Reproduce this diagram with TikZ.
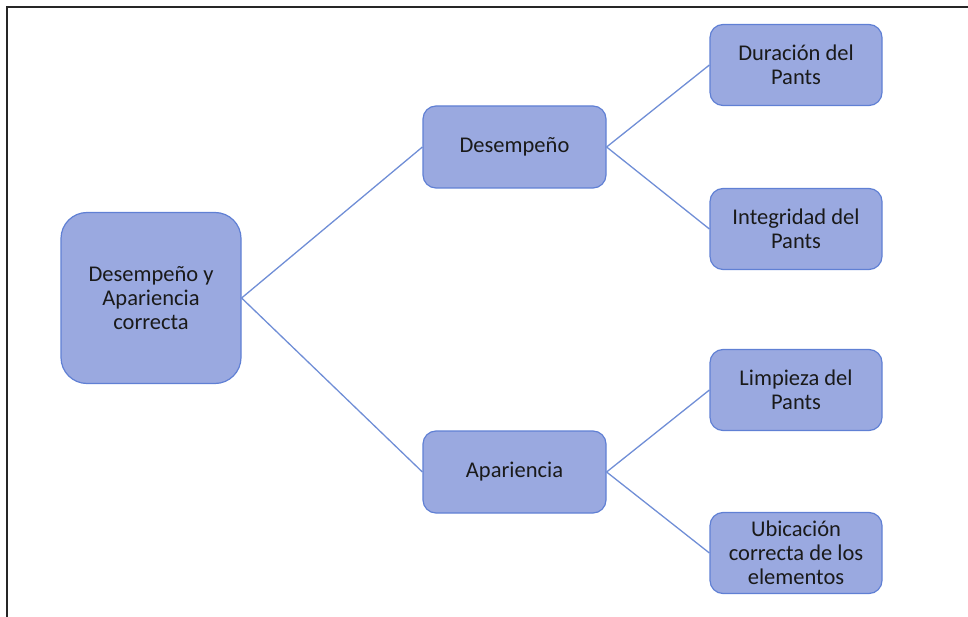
\documentclass[tikz,border=0pt]{standalone}
\usepackage{fontspec}
\setmainfont{Carlito}
\definecolor{boxfill}{RGB}{154,169,224}
\definecolor{boxedge}{RGB}{96,128,212}
\definecolor{linkcol}{RGB}{112,142,214}
\definecolor{txt}{RGB}{26,26,26}
\begin{document}
\begin{tikzpicture}[x=1pt,y=-1pt,
  treebox/.style={draw=boxedge, fill=boxfill, line width=1.2pt, rounded corners=13pt,
    align=center, text=txt, inner sep=0pt,
    font=\fontsize{22.5}{24}\selectfont},
  midbox/.style={treebox, minimum width=183pt, minimum height=82pt},
  leafbox/.style={treebox, minimum width=172pt, minimum height=81pt},
  link/.style={draw=linkcol, line width=1.3pt}]
  % page area and partial frame (top and left edges)
  \useasboundingbox (0,0) rectangle (968,617);
  \draw[line width=1.4pt, black!85] (7,617) -- (7,7) -- (968,7);

  % root
  \node[treebox, rounded corners=26pt, minimum width=180pt, minimum height=171pt]
    (root) at (151,298) {Desempeño y\\Apariencia\\correcta};

  % second level
  \node[midbox] (des) at (514.5,147) {Desempeño};
  \node[midbox] (apa) at (514.5,472) {Apariencia};

  % leaves
  \node[leafbox] (dur) at (796,65)  {Duración del\\Pants};
  \node[leafbox] (int) at (796,229) {Integridad del\\Pants};
  \node[leafbox] (lim) at (796,390) {Limpieza del\\Pants};
  \node[leafbox] (ubi) at (796,553) {Ubicación\\correcta de los\\elementos};

  % connectors
  \draw[link] (root.east) -- (des.west);
  \draw[link] (root.east) -- (apa.west);
  \draw[link] (des.east) -- (dur.west);
  \draw[link] (des.east) -- (int.west);
  \draw[link] (apa.east) -- (lim.west);
  \draw[link] (apa.east) -- (ubi.west);
\end{tikzpicture}
\end{document}
